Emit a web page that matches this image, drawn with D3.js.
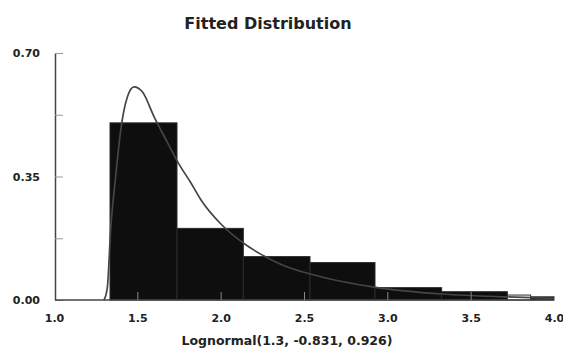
<!DOCTYPE html>
<html>
<head>
<meta charset="utf-8">
<script src="https://cdn.jsdelivr.net/npm/d3@7"></script>
<style>
  body { margin: 0; background: #fff; }
  text { font-family: "DejaVu Sans", Verdana, sans-serif; font-weight: bold; fill: #222; }
</style>
</head>
<body>
<div id="chart"></div>
<script>
// histogram bins (edges) and relative frequencies
const binEdges = [1.336, 1.738, 2.136, 2.536, 2.926, 3.326, 3.72, 3.86, 4.0]
const binFreq = [0.502, 0.203, 0.123, 0.106, 0.035, 0.0235, 0.014, 0.009]

// fitted curve
const curveX = [1.30, 1.32, 1.34, 1.37, 1.40, 1.44, 1.48, 1.53, 1.60, 1.68, 1.75, 1.82, 1.88, 2.00, 2.14, 2.24, 2.37, 2.60, 2.93, 3.33, 3.70, 4.00]
const curveY = [0.0, 0.035, 0.2, 0.35, 0.48, 0.575, 0.604, 0.59, 0.52, 0.447, 0.385, 0.333, 0.285, 0.216, 0.16, 0.13, 0.099, 0.066, 0.036, 0.017, 0.009, 0.005]

const xTicks = [1.0, 1.5, 2.0, 2.5, 3.0, 3.5, 4.0]
const yTicks = [0, 0.175, 0.35, 0.525, 0.70]
const yLabels = [0, 0.35, 0.70]

const title = "Fitted Distribution"
const xTitle = "Lognormal(1.3, -0.831, 0.926)"

const width = 563, height = 351

const svg = d3.select("#chart").append("svg")
  .attr("width", width)
  .attr("height", height)

const x = d3.scaleLinear().domain([1, 4]).range([54, 554])
const y = d3.scaleLinear().domain([0, 0.7]).range([300, 53])

// bars
const bins = binFreq.map((f, i) => ({ x0: binEdges[i], x1: binEdges[i + 1], f: f, i: i }))

svg.append("g")
  .selectAll("rect")
  .data(bins)
  .join("rect")
  .attr("x", d => x(d.x0))
  .attr("y", d => y(d.f))
  .attr("width", d => x(d.x1) - x(d.x0))
  .attr("height", d => y(0) - y(d.f))
  .attr("fill", d => d.i === 6 ? "#fff" : "#0e0e0e")
  .attr("stroke", "#2a2a2a")
  .attr("stroke-width", 1)

// fitted curve
const pts = curveX.map((v, i) => [v, curveY[i]])
const line = d3.line()
  .x(d => x(d[0]))
  .y(d => y(d[1]))
  .curve(d3.curveMonotoneX)

svg.append("path")
  .datum(pts)
  .attr("d", line)
  .attr("fill", "none")
  .attr("stroke", "#454545")
  .attr("stroke-width", 1.7)

// y axis: inward ticks
svg.append("g")
  .attr("transform", "translate(55,0)")
  .call(d3.axisLeft(y).tickValues(yTicks).tickSizeInner(-8).tickSizeOuter(0).tickFormat(""))
  .call(g => g.select(".domain").attr("stroke", "#444").attr("stroke-width", 1.5))
  .call(g => g.selectAll(".tick line").attr("stroke", "#999"))

svg.append("g")
  .attr("transform", "translate(55,0)")
  .call(d3.axisLeft(y).tickValues(yLabels).tickSize(0).tickPadding(15).tickFormat(d3.format(".2f")))
  .call(g => g.select(".domain").remove())
  .call(g => g.selectAll("text").attr("font-size", 11))

// x axis: inward ticks
svg.append("g")
  .attr("transform", "translate(0,300)")
  .call(d3.axisBottom(x).tickValues(xTicks.slice(1, -1)).tickSizeInner(-8).tickSizeOuter(0).tickFormat(""))
  .call(g => g.select(".domain").attr("stroke", "#444").attr("stroke-width", 1.5).attr("d", `M${x(1) + 1},0H${x(4)}`))
  .call(g => g.selectAll(".tick line").attr("stroke", "#888"))

svg.append("g")
  .attr("transform", "translate(0,300)")
  .call(d3.axisBottom(x).tickValues(xTicks).tickSize(0).tickPadding(14).tickFormat(d3.format(".1f")))
  .call(g => g.select(".domain").remove())
  .call(g => g.selectAll("text").attr("font-size", 11))

svg.selectAll(".tick text").attr("font-family", null).attr("fill", "#222")

// titles
svg.append("text")
  .attr("x", 268)
  .attr("y", 29)
  .attr("text-anchor", "middle")
  .attr("font-size", 16)
  .text(title)

svg.append("text")
  .attr("x", 287)
  .attr("y", 345)
  .attr("text-anchor", "middle")
  .attr("font-size", 12.5)
  .text(xTitle)
</script>
</body>
</html>
